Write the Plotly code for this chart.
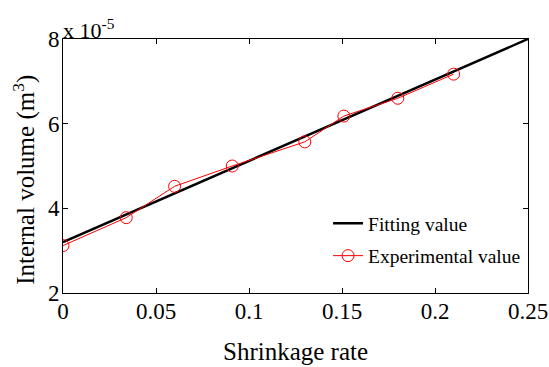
import plotly.graph_objects as go

# Data (volumes in units of 1e-5 m^3)
fit_x = [0.0, 0.25]
fit_y = [3.2, 8.0]
exp_x = [0.0, 0.034, 0.06, 0.091, 0.13, 0.151, 0.18, 0.21]
exp_y = [3.12, 3.78, 4.52, 5.0, 5.57, 6.18, 6.6, 7.17]
x_ticks = [0, 0.05, 0.1, 0.15, 0.2, 0.25]
x_tick_labels = ["0", "0.05", "0.1", "0.15", "0.2", "0.25"]
y_ticks = [2, 4, 6, 8]
y_tick_labels = ["2", "4", "6", "8"]

FONT = "Liberation Serif"

fig = go.Figure()
fig.add_trace(go.Scatter(x=fit_x, y=fit_y, mode="lines", name="Fitting value",
                         legendgroup="a",
                         line=dict(color="black", width=2.5)))
fig.add_trace(go.Scatter(x=exp_x, y=exp_y, mode="lines+markers", name="Experimental value",
                         legendgroup="b",
                         line=dict(color="red", width=1),
                         marker=dict(symbol="circle-open", size=12, color="red",
                                     line=dict(width=1, color="red"))))

axis_common = dict(showgrid=False, zeroline=False, showline=True, linecolor="black",
                   linewidth=1, mirror="ticks", ticks="inside", ticklen=5,
                   tickcolor="black", automargin=False,
                   tickfont=dict(family=FONT, size=23, color="black"))

fig.update_layout(
    width=549, height=367,
    margin=dict(l=63, r=21, t=39, b=74),
    plot_bgcolor="white", paper_bgcolor="white",
    font=dict(family=FONT, color="black"),
    showlegend=True,
    legend=dict(x=0.57, y=0.35, xanchor="left", yanchor="top",
                bgcolor="rgba(0,0,0,0)", font=dict(family=FONT, size=19.5, color="black"),
                traceorder="grouped", tracegroupgap=4),
    xaxis=dict(range=[0, 0.25], tickvals=x_ticks, ticktext=x_tick_labels,
               ticklabelstandoff=-3, **axis_common),
    yaxis=dict(range=[2, 8], tickvals=y_ticks, ticktext=y_tick_labels,
               ticklabelstandoff=-2, **axis_common),
)
# axis titles
fig.add_annotation(xref="paper", yref="paper", x=0.5, y=-0.232, yanchor="middle",
                   text="Shrinkage rate", showarrow=False,
                   font=dict(family=FONT, size=25, color="black"))
fig.add_annotation(xref="paper", yref="paper", x=-0.082, y=0.445, xanchor="center",
                   yanchor="middle", textangle=-90,
                   text="Internal volume (m<sup>3</sup>)", showarrow=False,
                   font=dict(family=FONT, size=25, color="black"))
fig.add_annotation(xref="paper", yref="paper", x=0.0, y=1.0, xanchor="left", yanchor="bottom",
                   text="x 10<sup>-5</sup>", showarrow=False, yshift=-6, xshift=-2,
                   font=dict(family=FONT, size=22, color="black"))

fig.write_html("out.html")
